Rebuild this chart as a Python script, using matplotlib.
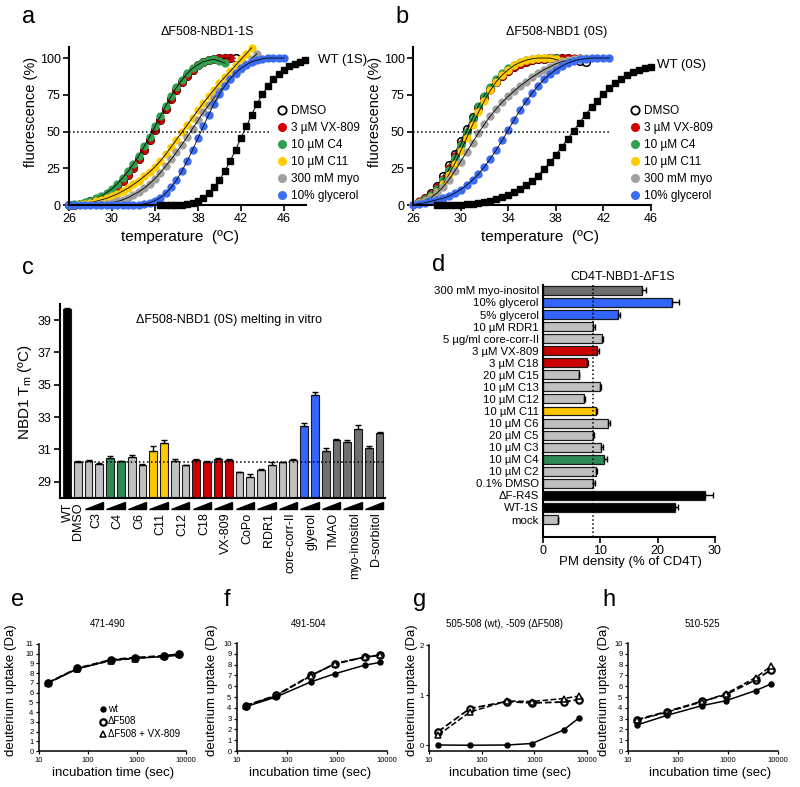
import numpy as np
import matplotlib
matplotlib.use("Agg")
import matplotlib.pyplot as plt
import matplotlib.transforms as mtransforms
from matplotlib.lines import Line2D
from matplotlib.patches import Polygon

plt.rcParams['font.family'] = ['Liberation Sans', 'DejaVu Sans']
plt.rcParams['mathtext.default'] = 'regular'

# ---------------- data ----------------
# melting curves: (start temperature, values every 0.5 degC)
a_dmso_t0, a_dmso = 26.0, [0, 0.3, 0.8, 1.5, 2.5, 3.5, 5, 7, 9.5, 12.5, 16, 20.5, 25.5, 31, 37.5, 44, 51, 58, 65, 72,
                            78, 83.5, 88, 92, 95, 97, 98.5, 99.5, 100, 100, 100, 100]
a_vx_t0, a_vx = 26.0, [0, 0.3, 0.8, 1.5, 2.5, 3.5, 5, 7, 9.5, 12.5, 16, 20.5, 25.5, 31, 37.5, 44, 51, 58, 65, 72,
                        78, 83.5, 88, 92, 95, 97, 98.5, 99.5, 100, 100, 100]
a_c4_t0, a_c4 = 26.0, [0, 0.5, 1, 2, 3, 4.5, 6, 8.5, 11, 14.5, 18.5, 23, 28, 33.5, 40, 46.5, 53.5, 60.5, 67.5, 74,
                        80, 85, 89.5, 93, 95.5, 97.5, 98.5, 99, 98, 96.5]
a_c11_t0, a_c11 = 27.0, [0.5, 1, 1.5, 2.5, 3.5, 4.5, 6, 7.5, 9.5, 11.5, 14, 16.5, 19.5, 22.5, 26, 30, 34.5, 39.5, 44.5,
                          49.5, 54.5, 59.5, 64.5, 69.5, 74, 78.5, 83, 87, 91, 95, 99, 103, 107]
a_myo_t0, a_myo = 29.0, [0.5, 1, 1.5, 2.5, 3.5, 5, 7, 9, 11.5, 14.5, 18, 22, 26.5, 31, 36, 41, 46.5, 52, 57.5, 63,
                          68, 73, 77.5, 81.5, 85.5, 89, 92.5, 96, 99.5, 103]
a_gly_t0, a_gly = 26.0, [0, 0, 0, 0, 0, 0, 0, 0, 0, 0, 0, 0, 0, 0.3, 0.8, 1.5, 3, 5, 8, 12, 17, 23, 30, 37.5, 45.5,
                          53.5, 61.5, 69, 75.5, 81, 86, 90, 93, 95.5, 97.5, 98.5, 99.5, 100, 100, 100, 100]
a_wt_t0, a_wt = 34.5, [0, 0, 0, 0, 0.3, 0.7, 1.5, 3, 5, 8, 12, 17, 23, 30, 37.5, 45.5, 53.5, 61.5, 69, 75.5, 81,
                        85.5, 89, 92, 94.5, 96, 97.5, 98.5]

b_dmso_t0, b_dmso = 26.5, [2, 4.5, 8, 13, 19.5, 27, 35, 43.5, 52, 60, 67, 73.5, 79, 84, 88, 91.5, 94, 96, 97.5, 98.5,
                            99, 99.5, 100, 100, 100, 100, 99, 98, 97]
b_vx_t0, b_vx = 26.5, [2.5, 4.5, 7.5, 12, 18, 25, 33, 41.5, 50, 58.5, 66, 72.5, 78.5, 83.5, 88, 91.5, 94, 96, 97.5,
                        98.5, 99, 99.5, 100, 100, 100, 100, 100, 100]
b_c4_t0, b_c4 = 26.5, [2, 4, 7, 11, 17, 24, 32, 41, 50, 59, 67.5, 74.5, 80.5, 86, 90, 93, 95.5, 97.5, 98.5, 99.5,
                        100, 100, 100, 100]
b_c11_t0, b_c11 = 26.5, [1.5, 3, 5.5, 9, 14, 20.5, 28, 36.5, 45.5, 54.5, 63, 71, 78, 84, 88.5, 92, 95, 97, 98.5,
                          99.5, 100, 100, 100, 99, 98]
b_myo_t0, b_myo = 26.0, [0.5, 1.5, 3, 5, 8, 12, 17, 23, 29.5, 36, 42.5, 49, 55, 60.5, 65.5, 70, 74, 77.5, 81, 84,
                          87, 89.5, 92, 94, 96, 97.5, 98.5, 99.5, 100, 100]
b_gly_t0, b_gly = 26.0, [0, 1, 1.5, 2.5, 3.5, 4.5, 6, 8, 10.5, 13.5, 17, 21, 26, 31.5, 37.5, 44, 51, 58, 64.5, 70.5,
                          76, 81, 85.5, 89, 92, 94.5, 96.5, 98, 99, 99.5, 100, 100, 100, 100]
b_wt_t0, b_wt = 28.0, [0, 0, 0, 0, 0.3, 0.5, 1, 1.5, 2.2, 3, 4, 5.5, 7, 9, 11, 13.5, 16.5, 20, 24.5, 29, 34, 39.5,
                        45, 50.5, 56, 61.5, 66.5, 71, 75.5, 79.5, 83, 86, 88.5, 90.5, 92, 93, 94]

legend_labels = ['DMSO', '3 µM VX-809', '10 µM C4', '10 µM C11', '300 mM myo', '10% glycerol']

# panel c: NBD1 Tm
c_groups = ['C3', 'C4', 'C6', 'C11', 'C12', 'C18', 'VX-809', 'CoPo', 'RDR1', 'core-corr-II',
            'glyerol', 'TMAO', 'myo-inositol', 'D-sorbitol']
c_single = ['WT', 'DMSO']
c_values = [39.68, 30.24,
            30.30, 30.11, 30.50, 30.26, 30.55, 30.03, 30.90, 31.41, 30.28, 30.03,
            30.34, 30.22, 30.42, 30.34, 29.58, 29.31, 29.76, 30.06, 30.22, 30.34,
            32.48, 34.38, 30.90, 31.58, 31.45, 32.26, 31.12, 32.05]
c_err = [0.05, 0.03,
         0.05, 0.05, 0.12, 0.03, 0.12, 0.05, 0.30, 0.15, 0.15, 0.03,
         0.06, 0.08, 0.05, 0.05, 0.03, 0.15, 0.03, 0.15, 0.02, 0.05,
         0.15, 0.20, 0.20, 0.05, 0.15, 0.25, 0.10, 0.03]
c_group_colors = ['#c0c0c0', '#2e8b57', '#c0c0c0', '#ffc800', '#c0c0c0', '#cc0000', '#cc0000',
                  '#c0c0c0', '#c0c0c0', '#c0c0c0', '#3366ff', '#707070', '#707070', '#707070']
c_dmso_line = 30.24

# panel d: PM density
d_labels = ['300 mM myo-inositol', '10% glycerol', '5% glycerol', '10 µM RDR1', '5 µg/ml core-corr-II',
            '3 µM VX-809', '3 µM C18', '20 µM C15', '10 µM C13', '10 µM C12', '10 µM C11', '10 µM C6',
            '20 µM C5', '10 µM C3', '10 µM C4', '10 µM C2', '0.1% DMSO', 'ΔF-R4S', 'WT-1S', 'mock']
d_values = [17.3, 22.5, 13.1, 8.7, 10.3, 9.4, 7.6, 6.2, 10.0, 7.1, 9.2, 11.3, 8.8, 10.2, 10.6, 9.2, 8.8,
            28.3, 23.0, 2.7]
d_err = [0.6, 1.2, 0.3, 0.3, 0.2, 0.3, 0.2, 0.1, 0.2, 0.2, 0.2, 0.4, 0.1, 0.2, 0.5, 0.2, 0.2, 1.3, 0.5, 0.0]
d_colors = ['#6e6e6e', '#3366ff', '#3366ff', '#c0c0c0', '#c0c0c0', '#cc0000', '#cc0000', '#c0c0c0',
            '#c0c0c0', '#c0c0c0', '#ffc800', '#c0c0c0', '#c0c0c0', '#c0c0c0', '#2e8b57', '#c0c0c0',
            '#c0c0c0', '#000000', '#000000', '#c0c0c0']
d_dmso_line = 8.8

# panels e-h: HDX
hdx_time = [15, 60, 300, 900, 3600, 7200]
e_wt = [7.0, 8.45, 9.35, 9.55, 9.7, 9.85]
e_df = [7.0, 8.5, 9.4, 9.6, 9.8, 9.95]
e_vx = [6.95, 8.45, 9.3, 9.5, 9.75, 10.0]
f_wt = [4.1, 5.0, 6.4, 7.15, 7.95, 8.2]
f_df = [4.2, 5.15, 7.0, 8.05, 8.7, 8.85]
f_vx = [4.2, 5.1, 6.95, 8.1, 8.7, 8.9]
g_wt = [0.0, -0.005, 0.0, 0.03, 0.30, 0.55]
g_df = [0.27, 0.73, 0.87, 0.84, 0.86, 0.91]
g_vx = [0.20, 0.66, 0.88, 0.87, 0.93, 0.98]
h_wt = [2.4, 3.3, 4.2, 4.65, 5.6, 6.2]
h_df = [2.9, 3.65, 4.6, 5.2, 6.6, 7.5]
h_vx = [2.85, 3.6, 4.55, 5.3, 6.8, 7.85]

# ---------------- figure ----------------
W, H = 800, 787
fig = plt.figure(figsize=(8, 7.87), dpi=100)


def box(l, t, r, b):
    return [l / W, 1 - b / H, (r - l) / W, (b - t) / H]


def ftext(x, y, s, **kw):
    fig.text(x / W, 1 - y / H, s, ha=kw.pop('ha', 'center'), va=kw.pop('va', 'center'), **kw)


def style(ax, lw=1.5, fs=9, tl=4):
    for s in ['top', 'right']:
        ax.spines[s].set_visible(False)
    for s in ['left', 'bottom']:
        ax.spines[s].set_linewidth(lw)
    ax.tick_params(width=lw * 0.8, length=tl, labelsize=fs, pad=2)


GREEN, RED, YEL, GRAY, BLUE = '#30a050', '#d40000', '#ffcc00', '#a0a0a0', '#3a6cf4'


def melt(ax, series, wt, xlim, dot_end):
    for t0, vals, col in series:
        t = t0 + 0.5 * np.arange(len(vals))
        if col is None:
            ax.plot(t, vals, 'o', mfc='white', mec='black', mew=1.1, ms=5.5, clip_on=False)
        else:
            ax.plot(t, vals, 'o', color=col, mec='none', ms=6, clip_on=False)
        ax.plot(t, vals, '-', color='black', lw=0.6, clip_on=False)
    t = wt[0] + 0.5 * np.arange(len(wt[1]))
    ax.plot(t, wt[1], 's', color='black', ms=3.8, clip_on=False)
    ax.plot(t, wt[1], '-', color='black', lw=0.7, clip_on=False)
    ax.plot([26, dot_end], [50, 50], ':', color='black', lw=1.1)
    ax.set_xlim(*xlim)
    ax.set_ylim(0, 107.5)
    ax.set_xticks([26, 30, 34, 38, 42, 46])
    ax.set_yticks([0, 25, 50, 75, 100])
    style(ax)
    handles = [Line2D([], [], ls='', marker='o', mfc='white', mec='black', mew=1.3, ms=6)]
    for c in [RED, GREEN, YEL, GRAY, BLUE]:
        handles.append(Line2D([], [], ls='', marker='o', color=c, mec='none', ms=6.5))
    return handles


ax_a = fig.add_axes(box(69, 47, 306, 205))
hand = melt(ax_a, [(a_dmso_t0, a_dmso, None), (a_vx_t0, a_vx, RED), (a_c4_t0, a_c4, GREEN),
                   (a_c11_t0, a_c11, YEL), (a_myo_t0, a_myo, GRAY), (a_gly_t0, a_gly, BLUE)],
            (a_wt_t0, a_wt), (26, 48.05), 44.7)
ax_a.legend(hand, legend_labels, loc='upper left', bbox_to_anchor=(273 / W, 1 - 99 / H),
            bbox_transform=fig.transFigure, frameon=False, fontsize=8.5, handlelength=0.6,
            handletextpad=0.4, labelspacing=0.42, borderpad=0)
ax_a.text(49.2, 98.5, 'WT (1S)', fontsize=9.5, ha='left', va='center', clip_on=False)

ax_b = fig.add_axes(box(413, 47, 651, 205))
hand = melt(ax_b, [(b_dmso_t0, b_dmso, None), (b_vx_t0, b_vx, RED), (b_c4_t0, b_c4, GREEN),
                   (b_c11_t0, b_c11, YEL), (b_myo_t0, b_myo, GRAY), (b_gly_t0, b_gly, BLUE)],
            (b_wt_t0, b_wt), (26, 46), 42.6)
ax_b.legend(hand, legend_labels, loc='upper left', bbox_to_anchor=(626 / W, 1 - 99 / H),
            bbox_transform=fig.transFigure, frameon=False, fontsize=8.5, handlelength=0.6,
            handletextpad=0.4, labelspacing=0.42, borderpad=0)
ax_b.text(46.5, 95, 'WT (0S)', fontsize=9.5, ha='left', va='center', clip_on=False)

ftext(207, 32, 'ΔF508-NBD1-1S', fontsize=9)
ftext(557, 32, 'ΔF508-NBD1 (0S)', fontsize=9)
for x in [31, 375]:
    ftext(x, 112, 'fluorescence (%)', fontsize=10.5, rotation=90)
for x in [180, 540]:
    ftext(x, 237, 'temperature  (ºC)', fontsize=11)

# ---- panel c ----
ax_c = fig.add_axes(box(60, 304, 385, 498))
c_colors = ['#000000', '#c0c0c0'] + [c for c in c_group_colors for _ in range(2)]
xc = np.arange(len(c_values))
ax_c.bar(xc, c_values, width=0.72, color=c_colors, edgecolor='#1a1a1a', linewidth=0.8,
         yerr=[np.zeros(len(c_err)), c_err], error_kw=dict(elinewidth=1, capsize=2, capthick=1, ecolor='black'))
ax_c.axhline(c_dmso_line, ls=':', color='black', lw=1.1, xmin=0.03)
ax_c.set_ylim(28, 40)
ax_c.set_xlim(-0.65, 29.5)
ax_c.set_yticks([29, 31, 33, 35, 37, 39])
ax_c.set_xticks([])
style(ax_c)
ax_c.text(0.52, 0.9, 'ΔF508-NBD1 (0S) melting in vitro', transform=ax_c.transAxes, fontsize=9, ha='center')
trans = mtransforms.blended_transform_factory(ax_c.transData, ax_c.transAxes)
for i, lab in enumerate(c_single):
    ax_c.text(i + 0.05, -0.025, lab, rotation=90, ha='center', va='top', fontsize=9, transform=trans)
for k, lab in enumerate(c_groups):
    i0 = 2 + 2 * k
    ax_c.add_patch(Polygon([(i0 - 0.35, -0.058), (i0 + 1.35, -0.058), (i0 + 1.35, -0.02)], closed=True,
                           color='black', transform=trans, clip_on=False))
    ax_c.text(i0 + 0.7, -0.075, lab, rotation=90, ha='center', va='top', fontsize=9, transform=trans)
ftext(25, 392, r'NBD1 T$_m$ (ºC)', fontsize=11, rotation=90)

# ---- panel d ----
ax_d = fig.add_axes(box(543, 285, 715, 537))
yd = np.arange(len(d_values))
ax_d.barh(yd, d_values, height=0.74, color=d_colors, edgecolor='#1a1a1a', linewidth=0.9,
          xerr=[np.zeros(len(d_err)), d_err], error_kw=dict(elinewidth=1, capsize=2, capthick=1, ecolor='black'))
ax_d.axvline(d_dmso_line, ls=':', color='black', lw=1.1)
ax_d.set_ylim(20.45, -0.45)
ax_d.set_xlim(0, 30)
ax_d.set_xticks([0, 10, 20, 30])
ax_d.set_yticks(yd)
ax_d.set_yticklabels(d_labels)
style(ax_d, fs=8.2)
ax_d.tick_params(axis='y', length=0, pad=3)
ax_d.tick_params(axis='x', labelsize=9)
ftext(623, 277, 'CD4T-NBD1-ΔF1S', fontsize=9)
ftext(630, 562, 'PM density (% of CD4T)', fontsize=9.5)

# ---- panels e-h ----
def hdx(box_px, wt, df, vx, ylim, yticks, title, tx, ylab_x, xlab_x):
    ax = fig.add_axes(box(*box_px))
    ax.plot(hdx_time, df, '--', color='black', lw=1.3, marker='o', mfc='white', mec='black', mew=1.6, ms=4.6,
            clip_on=False)
    ax.plot(hdx_time, vx, '--', color='black', lw=1.1, marker='^', mfc='white', mec='black', mew=1.1, ms=4.2,
            clip_on=False)
    ax.plot(hdx_time, wt, '-', color='black', lw=1.1, marker='o', ms=3.6, clip_on=False)
    ax.set_xscale('log')
    ax.set_xlim(10, 10000)
    ax.set_ylim(*ylim)
    ax.set_yticks(yticks)
    ax.set_xticks([10, 100, 1000, 10000])
    ax.set_xticklabels(['10', '100', '1000', '10000'])
    ax.minorticks_off()
    style(ax, lw=1.1, fs=5.5, tl=2)
    ftext(tx, 624, title, fontsize=7)
    ftext(ylab_x, 690, 'deuterium uptake (Da)', fontsize=9.5, rotation=90)
    ftext(xlab_x, 773, 'incubation time (sec)', fontsize=9.5)
    return ax


hdx((39, 644, 186, 751), e_wt, e_df, e_vx, (0, 11), range(0, 12), '471-490', 108, 11, 113)
hdx((237, 643, 387, 751), f_wt, f_df, f_vx, (0, 10), range(0, 11), '491-504', 309, 212, 310)
hdx((429, 645, 587, 751), g_wt, g_df, g_vx, (-0.12, 2), [0, 1, 2], '505-508 (wt), -509 (ΔF508)', 505, 412, 510)
hdx((628, 643, 778, 751), h_wt, h_df, h_vx, (0, 10), range(0, 11), '510-525', 702, 604, 710)

# legend in e
leg_items = [('o', 'black', 3.6, 1.0, 'wt'), ('o', 'white', 4.6, 1.6, 'ΔF508'), ('^', 'white', 4.2, 1.1, 'ΔF508 + VX-809')]
for k, (m, fc, ms, mew, lab) in enumerate(leg_items):
    y = 709 + 12.5 * k
    fig.lines.append(Line2D([103 / W], [1 - y / H], marker=m, mfc=fc, mec='black', ms=ms, mew=mew, ls='',
                            transform=fig.transFigure))
    ftext(108, y, lab, fontsize=7, ha='left')

# panel letters
for x, y, s in [(29, 17, 'a'), (402, 17, 'b'), (28, 268, 'c'), (439, 265, 'd'),
                (18, 600, 'e'), (227, 600, 'f'), (420, 600, 'g'), (609, 600, 'h')]:
    ftext(x, y, s, fontsize=17)

fig.savefig('out.png', dpi=100)
